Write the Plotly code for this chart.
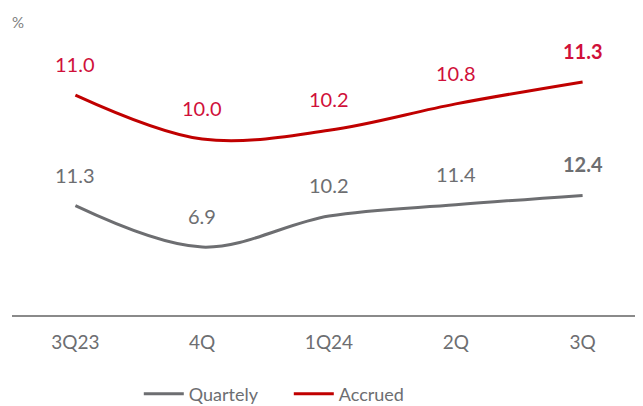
import plotly.graph_objects as go

categories = ["3Q23", "4Q", "1Q24", "2Q", "3Q"]
quarterly = [11.3, 6.9, 10.2, 11.4, 12.4]
accrued = [11.0, 10.0, 10.2, 10.8, 11.3]

GREY = "#6d6e71"
RED_LINE = "#c00000"
RED_TEXT = "#d0103a"
FONT = "Lato, 'Open Sans', sans-serif"

fig = go.Figure()
fig.add_trace(go.Scatter(x=categories, y=quarterly, name="Quartely", mode="lines",
                         line=dict(color=GREY, width=3, shape="spline", smoothing=1.0),
                         yaxis="y", hoverinfo="skip"))
fig.add_trace(go.Scatter(x=categories, y=accrued, name="Accrued", mode="lines",
                         line=dict(color=RED_LINE, width=3, shape="spline", smoothing=1.0),
                         yaxis="y2", hoverinfo="skip"))

annotations = []
n = len(categories)
for i, (c, v) in enumerate(zip(categories, quarterly)):
    t = f"{v:.1f}"
    if i == n - 1:
        t = f"<b>{t}</b>"
    annotations.append(dict(x=c, y=v, xref="x", yref="y", text=t, showarrow=False,
                            yshift=31, font=dict(family=FONT, size=20, color=GREY)))
for i, (c, v) in enumerate(zip(categories, accrued)):
    t = f"{v:.1f}"
    if i == n - 1:
        t = f"<b>{t}</b>"
    annotations.append(dict(x=c, y=v, xref="x", yref="y2", text=t, showarrow=False,
                            yshift=31, font=dict(family=FONT, size=20, color=RED_TEXT)))
annotations.append(dict(x=0, y=1, xref="paper", yref="paper", text="%", showarrow=False,
                        xanchor="left", yanchor="middle", yshift=8, xshift=-2,
                        font=dict(family=FONT, size=15, color="#808080")))

fig.update_layout(
    width=643, height=406,
    margin=dict(l=4, r=5, t=22, b=99, autoexpand=False),
    paper_bgcolor="white", plot_bgcolor="white",
    showlegend=True,
    legend=dict(orientation="h", x=0.2, xanchor="left", y=-0.277, yanchor="middle",
                font=dict(family=FONT, size=18, color=GREY), traceorder="normal",
                entrywidth=95, itemwidth=40),
    xaxis=dict(showline=True, linecolor="#8a8a8a", linewidth=1.5, showgrid=False,
               zeroline=False, ticks="outside", ticklen=9, tickcolor="rgba(0,0,0,0)",
               tickfont=dict(family=FONT, size=19, color=GREY), range=[-0.5, 4.5]),
    yaxis=dict(visible=False, range=[-0.33, 30], showgrid=False),
    yaxis2=dict(visible=False, range=[6.0, 12.48], overlaying="y", showgrid=False),
    annotations=annotations,
)

fig.write_html("out.html")
